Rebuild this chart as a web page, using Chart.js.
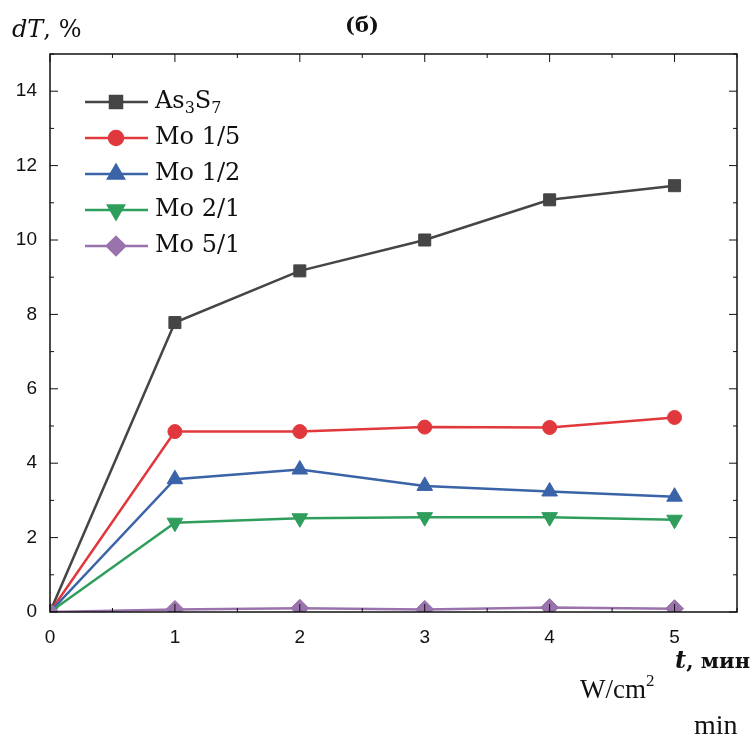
<!DOCTYPE html>
<html lang="ru">
<head>
  <meta charset="UTF-8" />
  <title>dT vs t</title>
  <script src="https://cdn.jsdelivr.net/npm/chart.js"></script>
  <style>
    html, body { margin: 0; padding: 0; background: #fff; }
    #wrap { width: 753px; height: 740px; position: relative; }
  </style>
</head>
<body>
  <div id="wrap"><canvas id="chart" width="753" height="740"></canvas></div>

  <script>
    // time, min
    const times = [0, 1, 2, 3, 4, 5];
    const seriesNames = ['As3S7', 'Mo 1/5', 'Mo 1/2', 'Mo 2/1', 'Mo 5/1'];
    const as3s7 = [0, 7.78, 9.17, 10.0, 11.08, 11.46];
    const mo15 = [0, 4.85, 4.85, 4.97, 4.96, 5.23];
    const mo12 = [0, 3.57, 3.83, 3.39, 3.24, 3.1];
    const mo21 = [0, 2.4, 2.52, 2.55, 2.55, 2.48];
    const mo51 = [0, 0.07, 0.1, 0.07, 0.12, 0.09];
    const yTicks = [0, 2, 4, 6, 8, 10, 12, 14];

    const colors = ['#454545', '#e0383c', '#3a63a8', '#2f9e5c', '#9a72ac'];
    const markers = ['rect', 'circle', 'triangle', 'triangle', 'rectRot'];
    const rotations = [0, 0, 0, 180, 0];
    const radii = [8.5, 7, 9, 9, 9];
    const allData = [as3s7, mo15, mo12, mo21, mo51];

    const datasets = allData.map((vals, i) => ({
      label: seriesNames[i],
      data: times.map((t, j) => ({ x: t, y: vals[j] })),
      borderColor: colors[i],
      backgroundColor: colors[i],
      borderWidth: 2.5,
      pointStyle: markers[i],
      rotation: rotations[i],
      pointRadius: radii[i],
      pointBorderWidth: 1,
      tension: 0
    })).reverse();

    const serif = "'DejaVu Serif', 'Liberation Serif', serif";

    // frame, inward ticks, legend and axis titles
    const decor = {
      id: 'decor',
      afterDatasetsDraw(chart) {
        const { ctx, chartArea: a, scales: { x, y } } = chart;
        ctx.save();
        ctx.strokeStyle = '#111';
        ctx.lineWidth = 1.5;
        ctx.strokeRect(a.left, a.top, a.right - a.left, a.bottom - a.top);
        ctx.lineWidth = 1;
        for (let v = 0; v <= 5.5; v += 0.5) {
          const px = x.getPixelForValue(v);
          const len = Number.isInteger(v) ? 8 : 4;
          ctx.beginPath();
          ctx.moveTo(px, a.bottom); ctx.lineTo(px, a.bottom - len);
          ctx.moveTo(px, a.top); ctx.lineTo(px, a.top + len);
          ctx.stroke();
        }
        for (let v = 0; v <= 15; v += 1) {
          const py = y.getPixelForValue(v);
          const len = v % 2 === 0 ? 8 : 4;
          ctx.beginPath();
          ctx.moveTo(a.left, py); ctx.lineTo(a.left + len, py);
          ctx.moveTo(a.right, py); ctx.lineTo(a.right - len, py);
          ctx.stroke();
        }

        // legend
        const lx = a.left + 35, rowH = 36;
        seriesNames.forEach((name, i) => {
          const ly = 102 + i * rowH;
          ctx.strokeStyle = colors[i];
          ctx.lineWidth = 2.5;
          ctx.beginPath();
          ctx.moveTo(lx, ly); ctx.lineTo(lx + 63, ly);
          ctx.stroke();
          ctx.fillStyle = colors[i];
          Chart.helpers.drawPoint(ctx, {
            pointStyle: markers[i], rotation: rotations[i],
            radius: radii[i], borderWidth: 1
          }, lx + 31, ly);
          ctx.fillStyle = '#111';
          ctx.textBaseline = 'middle';
          ctx.textAlign = 'left';
          ctx.font = '24px ' + serif;
          const tx = lx + 70;
          if (i === 0) {
            ctx.fillText('As', tx, ly);
            let w = ctx.measureText('As').width;
            ctx.font = '16px ' + serif;
            ctx.fillText('3', tx + w, ly + 7);
            w += ctx.measureText('3').width;
            ctx.font = '24px ' + serif;
            ctx.fillText('S', tx + w, ly);
            w += ctx.measureText('S').width;
            ctx.font = '16px ' + serif;
            ctx.fillText('7', tx + w, ly + 7);
          } else {
            ctx.fillText(name, tx, ly);
          }
        });

        // titles
        ctx.fillStyle = '#111';
        ctx.textBaseline = 'alphabetic';
        ctx.textAlign = 'left';
        ctx.font = 'italic 24px ' + serif;
        ctx.fillText('dT', 12, 37);
        let w = ctx.measureText('dT').width;
        ctx.font = '24px ' + serif;
        ctx.fillText(', %', 12 + w, 37);

        ctx.font = 'bold 21px ' + serif;
        ctx.fillText('(б)', 345, 32);

        ctx.textAlign = 'right';
        ctx.font = 'bold 21px ' + serif;
        ctx.fillText(', мин', 750, 668);
        const mw = ctx.measureText(', мин').width;
        ctx.font = 'italic bold 24px ' + serif;
        ctx.fillText('t', 750 - mw, 668);

        ctx.textAlign = 'left';
        ctx.font = "27px 'Liberation Serif', serif";
        ctx.fillText('W/cm', 580, 698);
        const cw = ctx.measureText('W/cm').width;
        ctx.font = "17px 'Liberation Serif', serif";
        ctx.fillText('2', 580 + cw, 686);

        ctx.font = "28px 'Liberation Serif', serif";
        ctx.fillText('min', 694, 734);
        ctx.restore();
      }
    };

    const tickFont = { family: "'Liberation Sans Narrow', 'Liberation Sans', sans-serif", size: 19 };

    new Chart(document.getElementById('chart'), {
      type: 'line',
      data: { datasets },
      options: {
        responsive: false,
        animation: false,
        layout: { padding: { top: 54, right: 16, bottom: 88, left: 0 } },
        plugins: { legend: { display: false }, tooltip: { enabled: false } },
        scales: {
          x: {
            type: 'linear',
            min: 0, max: 5.5,
            afterFit: s => { s.height = 40; },
            afterBuildTicks: s => { s.ticks = times.map(v => ({ value: v })); },
            grid: { display: false, drawTicks: false },
            border: { display: false },
            ticks: { color: '#111', font: tickFont, padding: 14, maxRotation: 0 }
          },
          y: {
            min: 0, max: 15,
            afterFit: s => { s.width = 50; },
            afterBuildTicks: s => { s.ticks = yTicks.map(v => ({ value: v })); },
            grid: { display: false, drawTicks: false },
            border: { display: false },
            ticks: { color: '#111', font: tickFont, padding: 13 }
          }
        }
      },
      plugins: [decor]
    });
  </script>
</body>
</html>
